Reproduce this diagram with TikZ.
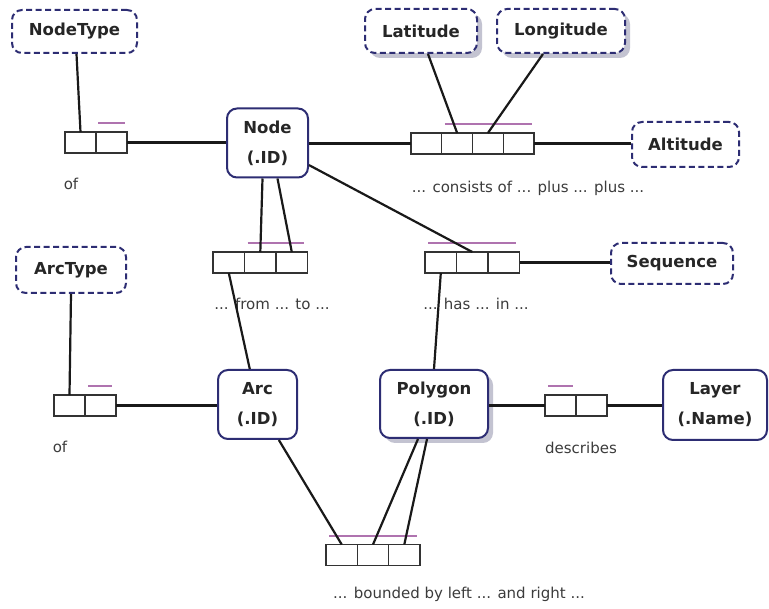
\documentclass[tikz,border=0pt]{standalone}
\usepackage{fontspec}
\setmainfont{DejaVu Sans}
\usetikzlibrary{shadows,positioning}
\definecolor{entityblue}{RGB}{45,45,115}
\definecolor{uniq}{RGB}{175,115,175}
\definecolor{labelgrey}{RGB}{60,60,60}
\definecolor{shadowgrey}{RGB}{170,170,190}
\tikzset{
  entity/.style={draw=entityblue, line width=2pt, rounded corners=10pt, fill=white,
    align=center, font=\bfseries\fontsize{16.5}{30}\selectfont, text=black!85, inner sep=0pt},
  valtype/.style={entity, dash pattern=on 6pt off 3.5pt},
  shade/.style={drop shadow={shadow xshift=5pt, shadow yshift=-5pt, fill=shadowgrey, opacity=0.7}},
  cell/.style={draw=black!80, line width=1.4pt, minimum width=31pt, minimum height=21pt,
    inner sep=0pt, outer sep=0pt, fill=white},
  conn/.style={draw=black!90, line width=2.2pt},
  ubar/.style={draw=uniq, line width=1.7pt},
  factlabel/.style={font=\fontsize{15}{17}\selectfont, text=labelgrey, inner sep=0pt},
}
\begin{document}
\begin{tikzpicture}[x=1pt, y=-1pt]
\useasboundingbox[fill=white] (0,0) rectangle (769,609);

% object types
\node[valtype, minimum width=125pt, minimum height=43pt] (nodetype) at (74.5,31.5) {NodeType};
\node[valtype, shade, minimum width=112pt, minimum height=44pt] (lat) at (421,31) {Latitude};
\node[valtype, shade, minimum width=128pt, minimum height=44pt] (lon) at (561,31) {Longitude};
\node[valtype, minimum width=107pt, minimum height=45pt] (alt) at (685.5,144.5) {Altitude};
\node[entity, minimum width=81pt, minimum height=69pt] (node) at (267.5,143) {Node\\(.ID)};
\node[valtype, minimum width=122pt, minimum height=41pt] (seq) at (672,263.5) {Sequence};
\node[valtype, minimum width=110pt, minimum height=46pt] (arctype) at (71,270) {ArcType};
\node[entity, minimum width=79pt, minimum height=69pt] (arc) at (257.5,404.5) {Arc\\(.ID)};
\node[entity, shade, minimum width=108pt, minimum height=68pt] (poly) at (434,404) {Polygon\\(.ID)};
\node[entity, minimum width=104pt, minimum height=70pt] (layer) at (715,405) {Layer\\(.Name)};

% fact types: role boxes
\node[cell] (ofN1) at (80.5,142.5) {};
\node[cell, right=0pt of ofN1] (ofN2) {};

\node[cell, minimum width=30.75pt] (cons1) at (426.4,143.5) {};
\node[cell, minimum width=30.75pt, right=0pt of cons1] (cons2) {};
\node[cell, minimum width=30.75pt, right=0pt of cons2] (cons3) {};
\node[cell, minimum width=30.75pt, right=0pt of cons3] (cons4) {};

\node[cell, minimum width=31.5pt] (ft1) at (228.8,262.5) {};
\node[cell, minimum width=31.5pt, right=0pt of ft1] (ft2) {};
\node[cell, minimum width=31.5pt, right=0pt of ft2] (ft3) {};

\node[cell, minimum width=31.5pt] (hi1) at (440.8,262.5) {};
\node[cell, minimum width=31.5pt, right=0pt of hi1] (hi2) {};
\node[cell, minimum width=31.5pt, right=0pt of hi2] (hi3) {};

\node[cell] (ofA1) at (69.5,405.5) {};
\node[cell, right=0pt of ofA1] (ofA2) {};

\node[cell] (des1) at (560.5,405.5) {};
\node[cell, right=0pt of des1] (des2) {};

\node[cell, minimum width=31.3pt] (bd1) at (341.7,555) {};
\node[cell, minimum width=31.3pt, right=0pt of bd1] (bd2) {};
\node[cell, minimum width=31.3pt, right=0pt of bd2] (bd3) {};

% uniqueness constraints
\draw[ubar] ([xshift=2pt,yshift=9pt]ofN2.north west) -- ([xshift=-2pt,yshift=9pt]ofN2.north east);
\draw[ubar] ([xshift=3pt,yshift=9pt]cons2.north west) -- ([xshift=-2pt,yshift=9pt]cons4.north east);
\draw[ubar] ([xshift=3pt,yshift=9pt]ft2.north west) -- ([xshift=-4pt,yshift=9pt]ft3.north east);
\draw[ubar] ([xshift=3pt,yshift=9pt]hi1.north west) -- ([xshift=-4pt,yshift=9pt]hi3.north east);
\draw[ubar] ([xshift=3pt,yshift=9pt]ofA2.north west) -- ([xshift=-4pt,yshift=9pt]ofA2.north east);
\draw[ubar] ([xshift=3pt,yshift=9pt]des1.north west) -- ([xshift=-3pt,yshift=9pt]des1.north east);
\draw[ubar] ([xshift=3pt,yshift=8.5pt]bd1.north west) -- ([xshift=-3pt,yshift=8.5pt]bd3.north east);

% fact type readings
\node[factlabel] (ofNlbl) at (71,184) {of};
\node[factlabel] (conslbl) at (528,188) {... consists of ... plus ... plus ...};
\node[factlabel] (ftlbl) at (272,304) {... from ... to ...};
\node[factlabel] (hilbl) at (476,304) {... has ... in ...};
\node[factlabel] (ofAlbl) at (60,447) {of};
\node[factlabel] (deslbl) at (581,448) {describes};
\node[factlabel] (bdlbl) at (459,594) {... bounded by left ... and right ...};

% role connectors
\draw[conn] ([xshift=2pt]nodetype.south) -- (ofN1.north);
\draw[conn] (ofN2.east) -- (ofN2.east -| node.west);
\draw[conn] (cons1.west -| node.east) -- (cons1.west);
\draw[conn] (cons4.east) -- (cons4.east -| alt.west);
\draw[conn] ([xshift=7pt]lat.south) -- (cons2.north);
\draw[conn] ([xshift=-18pt]lon.south) -- (cons3.north);
\draw[conn] ([xshift=-5pt]node.south) -- (ft2.north);
\draw[conn] ([xshift=10pt]node.south) -- (ft3.north);
\draw[conn] (node) -- (hi2.north);
\draw[conn] (hi3.east) -- (hi3.east -| seq.west);
\draw[conn] (arc) -- (ft1.south);
\draw[conn] (poly.north) -- (hi1.south);
\draw[conn] (arctype.south) -- (ofA1.north);
\draw[conn] (ofA2.east) -- (ofA2.east -| arc.west);
\draw[conn] (des1.west -| poly.east) -- (des1.west);
\draw[conn] (des2.east) -- (des2.east -| layer.west);
\draw[conn] (arc) -- (bd1.north);
\draw[conn] ([xshift=-16pt]poly.south) -- (bd2.north);
\draw[conn] ([xshift=-7pt]poly.south) -- (bd3.north);
\end{tikzpicture}
\end{document}
